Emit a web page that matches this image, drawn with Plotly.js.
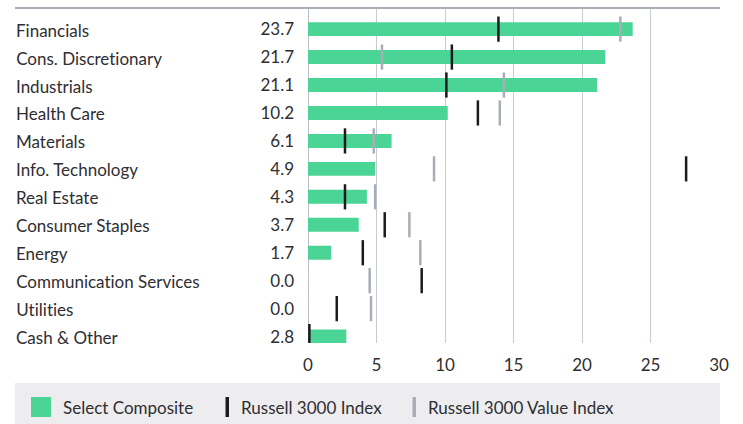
<!DOCTYPE html>
<html>
<head>
<meta charset="utf-8">
<script src="https://cdn.plot.ly/plotly-3.0.1.min.js"></script>
<style>html,body{margin:0;padding:0;background:#fff;}#chart{width:743px;height:424px;}
#chart text{font-variant-ligatures:none;font-feature-settings:"liga" 0;}</style>
</head>
<body>
<div id="chart"></div>
<script>
var categories = ["Financials","Cons. Discretionary","Industrials","Health Care","Materials","Info. Technology","Real Estate","Consumer Staples","Energy","Communication Services","Utilities","Cash & Other"];
var selectComposite = [23.7,21.7,21.1,10.2,6.1,4.9,4.3,3.7,1.7,0.0,0.0,2.8];
var russell3000 = [13.9,10.5,10.1,12.4,2.7,27.6,2.7,5.6,4.0,8.3,2.1,0.1];
var russell3000Value = [22.8,5.4,14.3,14.0,4.8,9.2,4.9,7.4,8.2,4.5,4.6,0.0];
var seriesNames = ["Select Composite","Russell 3000 Index","Russell 3000 Value Index"];
var xTicks = [0,5,10,15,20,25,30];

var FONT = "Lato, 'Noto Sans', sans-serif";
var TXT = "#2e2e33";
var GREEN = "#4ad596", BLACK = "#1b1b1d", GREY = "#a9aeb6";

var W = 743, ML = 308, MR = 24;
var PW = W - ML - MR;
function px(p){ return (p - ML) / PW; }
var PH = 424 - 9 - 81;
function py(p){ return (343 - p) / PH; }

var traces = [
  {type:"bar", orientation:"h", y:categories, x:selectComposite, width:0.5,
   marker:{color:GREEN}, name:seriesNames[0], hoverinfo:"x"},
  {type:"scatter", mode:"markers", y:categories, x:russell3000Value, name:seriesNames[2],
   marker:{symbol:"line-ns", size:18, color:GREY, line:{color:GREY, width:2.5}}},
  {type:"scatter", mode:"markers", y:categories, x:russell3000, name:seriesNames[1],
   marker:{symbol:"line-ns", size:18, color:BLACK, line:{color:BLACK, width:2.5}}}
];

var annotations = categories.map(function(c){
  return {xref:"paper", yref:"y", x:px(14), y:c, xanchor:"left", yanchor:"middle", yshift:-1,
          text:c, showarrow:false, font:{family:FONT, size:17, color:TXT}};
});

// Legend built from series names
var legendItems = [
  {sym:[31,51], text:61, color:GREEN},
  {sym:[225.5,229], text:239, color:BLACK},
  {sym:[412.5,416], text:426, color:GREY}
];
var shapes = [
  {type:"line", xref:"paper", yref:"paper", x0:px(15), x1:px(720), y0:py(8), y1:py(8),
   line:{color:"#a9afb7", width:2}, layer:"above"},
  {type:"rect", xref:"paper", yref:"paper", x0:px(15), x1:px(720), y0:py(424), y1:py(383),
   fillcolor:"#ededef", line:{width:0}, layer:"below"}
];
legendItems.forEach(function(it, i){
  shapes.push({type:"rect", xref:"paper", yref:"paper", x0:px(it.sym[0]), x1:px(it.sym[1]),
    y0:py(417), y1:py(397), fillcolor:it.color, line:{width:0}});
  annotations.push({xref:"paper", yref:"paper", x:px(it.text), y:py(407), xanchor:"left", yanchor:"middle",
    text:seriesNames[i], showarrow:false, font:{family:FONT, size:17, color:TXT}});
});

var layout = {
  width:743, height:424,
  margin:{l:ML, r:MR, t:9, b:81, pad:0},
  paper_bgcolor:"#ffffff", plot_bgcolor:"#ffffff",
  showlegend:false,
  font:{family:FONT, size:16, color:TXT},
  xaxis:{range:[0,30], tickvals:xTicks, ticktext:xTicks.map(String), showgrid:true, gridcolor:"#c6cbd2", gridwidth:1,
         zeroline:true, zerolinecolor:"#b9bec6", zerolinewidth:1, showline:false, ticks:"",
         ticklabelstandoff:10,
         tickfont:{family:FONT, size:17, color:TXT}, fixedrange:true},
  yaxis:{type:"category", categoryorder:"array", categoryarray:categories, range:[11.23,-0.72],
         tickvals:categories, ticktext:selectComposite.map(function(v){return v.toFixed(1);}),
         showgrid:false, zeroline:false, showline:false, ticks:"", ticklabelstandoff:13,
         tickfont:{family:FONT, size:17, color:TXT}, fixedrange:true},
  annotations:annotations,
  shapes:shapes
};

Plotly.newPlot("chart", traces, layout, {displayModeBar:false, staticPlot:true});
</script>
</body>
</html>
